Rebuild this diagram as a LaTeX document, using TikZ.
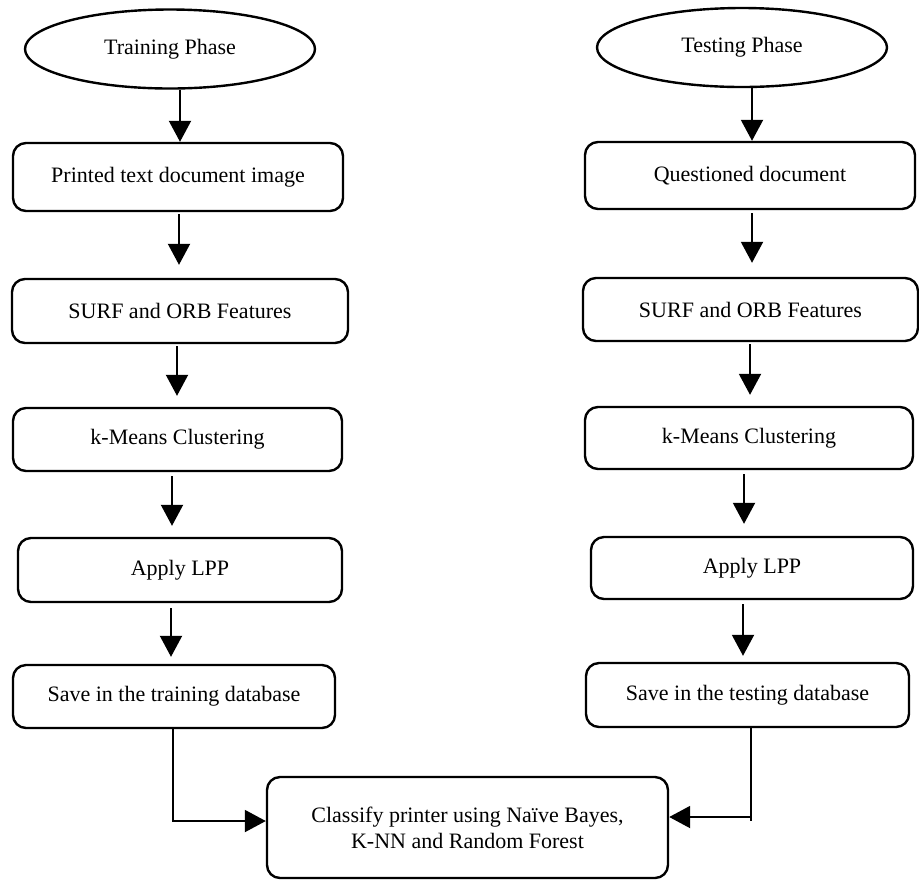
\documentclass[tikz,border=0pt]{standalone}
\usepackage{fontspec}
\setmainfont{Liberation Serif}
\usetikzlibrary{shapes.geometric,arrows.meta}
\tikzset{
  box/.style={draw, rounded corners=6.5pt, line width=1.2pt, inner sep=0pt, align=center},
  phase/.style={draw, ellipse, line width=1.2pt, inner sep=0pt, minimum width=145pt, minimum height=39.5pt},
  arr/.style={line width=1pt, -{Triangle[length=10.5pt,width=11pt]}},
  link/.style={line width=1pt}
}
\begin{document}
\begin{tikzpicture}[x=0.5pt,y=-0.5pt,font=\fontsize{11}{13}\selectfont]
\useasboundingbox (0,0) rectangle (919,880);
% left column
\node[phase] (tp) at (170,49) {Training Phase};
\node[box, minimum width=165pt, minimum height=34pt] (l1) at (178,177) {Printed text document image};
\node[box, minimum width=168pt, minimum height=32pt] (l2) at (180,311) {SURF and ORB Features};
\node[box, minimum width=164.5pt, minimum height=31.5pt] (l3) at (177.5,439.5) {k-Means Clustering};
\node[box, minimum width=162pt, minimum height=32pt] (l4) at (180,570) {Apply LPP};
\node[box, minimum width=161pt, minimum height=31.5pt] (l5) at (174,696.5) {Save in the training database};
% right column
\node[phase] (qp) at (742,47.5) {Testing Phase};
\node[box, minimum width=165pt, minimum height=33.5pt] (r1) at (750,175.5) {Questioned document};
\node[box, minimum width=167.5pt, minimum height=31.5pt] (r2) at (750.5,309.5) {SURF and ORB Features};
\node[box, minimum width=164pt, minimum height=31pt] (r3) at (749,438) {k-Means Clustering};
\node[box, minimum width=161pt, minimum height=31pt] (r4) at (752,568) {Apply LPP};
\node[box, minimum width=161.5pt, minimum height=32pt] (r5) at (747.5,695) {Save in the testing database};
% bottom
\node[box, minimum width=200.5pt, minimum height=50.5pt] (cls) at (467.5,827.5) {Classify printer using Naïve Bayes,\\K-NN and Random Forest};
% left arrows
\draw[arr] (tp.south -| 180,0) -- (l1.north -| 180,0);
\draw[arr, shorten <=1pt, shorten >=6.5pt] (l1.south -| 179,0) -- (l2.north -| 179,0);
\draw[arr, shorten <=1pt, shorten >=5.5pt] (l2.south -| 177,0) -- (l3.north -| 177,0);
\draw[arr, shorten <=2pt, shorten >=5.5pt] (l3.south -| 172,0) -- (l4.north -| 172,0);
\draw[arr, shorten <=2.5pt, shorten >=3.5pt] (l4.south -| 171,0) -- (l5.north -| 171,0);
% right arrows
\draw[arr] (qp.south -| 752,0) -- (r1.north -| 752,0);
\draw[arr, shorten <=1.5pt, shorten >=7pt] (r1.south -| 752,0) -- (r2.north -| 752,0);
\draw[arr, shorten <=1pt, shorten >=5.5pt] (r2.south -| 750,0) -- (r3.north -| 750,0);
\draw[arr, shorten <=2pt, shorten >=6pt] (r3.south -| 744,0) -- (r4.north -| 744,0);
\draw[arr, shorten <=2pt, shorten >=3pt] (r4.south -| 743,0) -- (r5.north -| 743,0);
% to classifier
\draw[link, -{Triangle[length=10.5pt,width=11pt]}] (l5.south -| 173,0) |- (cls.west |- 0,821);
\coordinate (rj) at (751,821);
\coordinate (rh) at (751,817);
\draw[link] (r5.south -| rj) -- (rj);
\draw[link, -{Triangle[length=10.5pt,width=11pt]}] (rh) -- (cls.east |- rh);
\end{tikzpicture}
\end{document}
